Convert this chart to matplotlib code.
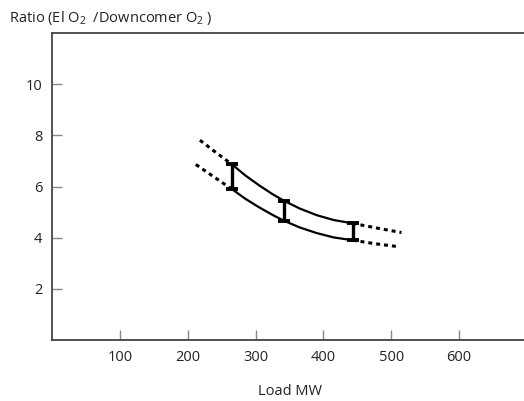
import matplotlib
matplotlib.use('Agg')
import matplotlib.pyplot as plt

plt.rcParams['font.family'] = ['Open Sans', 'DejaVu Sans']
plt.rcParams['mathtext.fontset'] = 'custom'
plt.rcParams['mathtext.rm'] = 'Open Sans'
plt.rcParams['mathtext.it'] = 'Open Sans'

# solid band
load = [265, 285, 305, 325, 342, 365, 390, 415, 443]
upper = [6.87, 6.43, 6.05, 5.70, 5.44, 5.14, 4.88, 4.69, 4.56]
lower = [5.90, 5.52, 5.19, 4.89, 4.66, 4.40, 4.18, 4.01, 3.90]

# dotted extrapolations
up_left_x = [218, 242, 265]
up_left_y = [7.81, 7.32, 6.87]
lo_left_x = [212, 240, 265]
lo_left_y = [6.86, 6.35, 5.90]
up_right_x = [443, 480, 515]
up_right_y = [4.56, 4.37, 4.20]
lo_right_x = [443, 477, 510]
lo_right_y = [3.90, 3.76, 3.65]

# measured ranges
bar_x = [265, 342, 443]
bar_top = [6.87, 5.44, 4.56]
bar_bot = [5.90, 4.66, 3.90]

xticks = [100, 200, 300, 400, 500, 600]
yticks = [2, 4, 6, 8, 10]

fig = plt.figure(figsize=(5.24, 4.01), dpi=100)
ax = fig.add_axes([52 / 524, 61 / 401, 475 / 524, 307 / 401])

ax.plot(load, upper, color='black', lw=1.6, solid_capstyle='butt')
ax.plot(load, lower, color='black', lw=1.6, solid_capstyle='butt')

dot = (0, (1.3, 1.3))
for xs, ys in [(up_left_x, up_left_y), (lo_left_x, lo_left_y),
               (up_right_x, up_right_y), (lo_right_x, lo_right_y)]:
    ax.plot(xs, ys, color='black', lw=2.2, linestyle=dot, dash_capstyle='butt')

mid = [(t + b) / 2 for t, b in zip(bar_top, bar_bot)]
half = [(t - b) / 2 for t, b in zip(bar_top, bar_bot)]
ax.errorbar(bar_x, mid, yerr=half, fmt='none', ecolor='black',
            elinewidth=2.4, capsize=4.5, capthick=2.8)

ax.set_xlim(0, 700)
ax.set_ylim(0, 12)
ax.set_xticks(xticks)
ax.set_yticks(yticks)
ax.tick_params(direction='in', length=7, width=1, color='#888888',
               labelsize=10.5, labelcolor='#222222', pad=7)

for s in ['left', 'top', 'bottom']:
    ax.spines[s].set_color('#444444')
    ax.spines[s].set_linewidth(1.3)
ax.spines['right'].set_visible(False)

ax.set_xlabel('Load MW', fontsize=10.5, color='#222222', labelpad=14)
fig.text(9 / 524, 1 - 22 / 401, 'Ratio (El O$_2$  /Downcomer O$_2$ )',
         fontsize=10.5, color='#222222', ha='left', va='baseline')

fig.savefig('out.png', dpi=100)
